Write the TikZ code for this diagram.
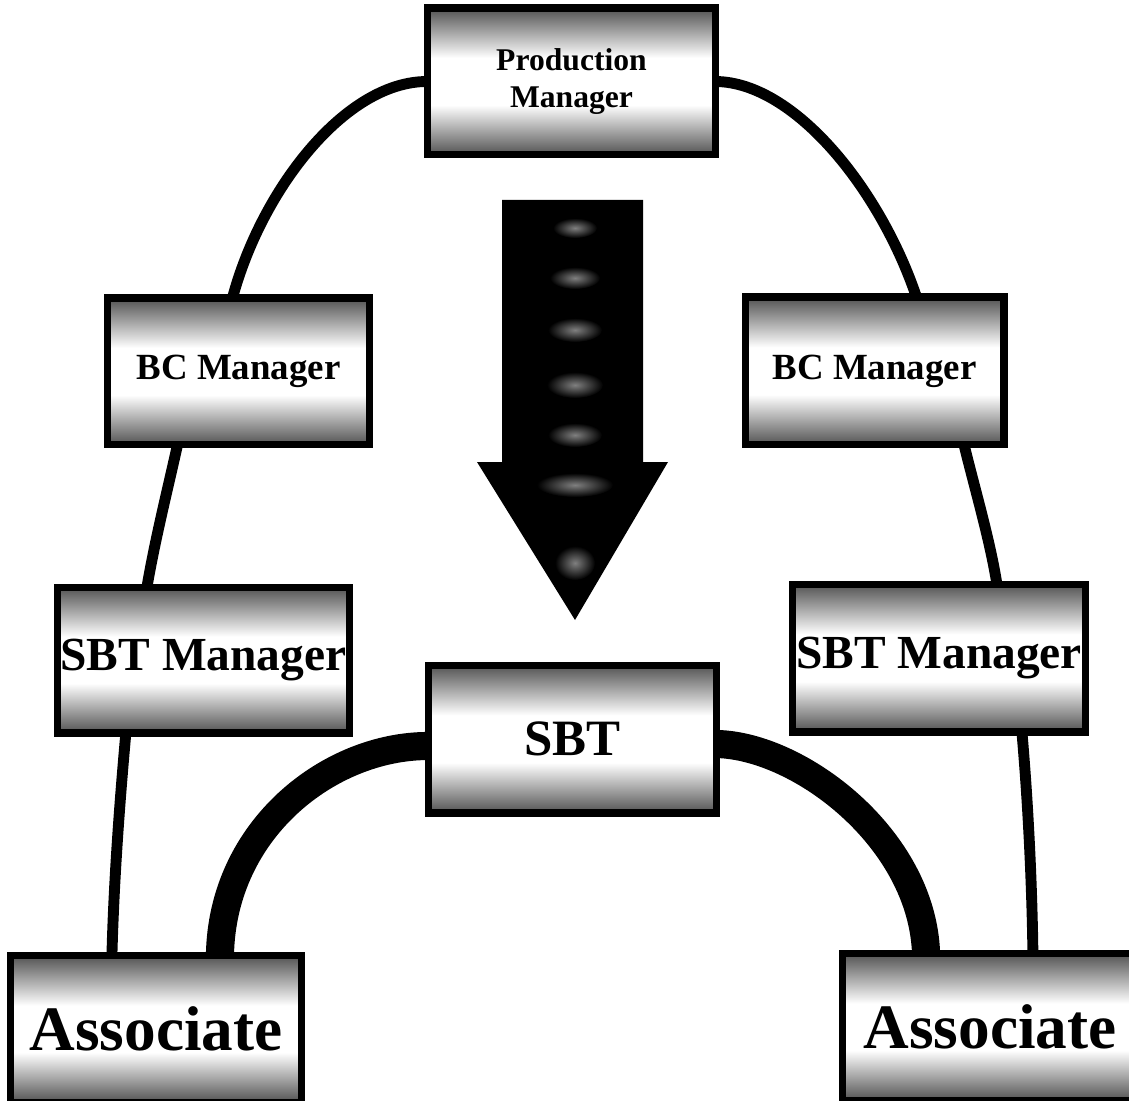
\documentclass[tikz,border=0pt]{standalone}
\usepackage{fontspec}
\setmainfont{Liberation Serif}
\usetikzlibrary{shapes.geometric,calc,backgrounds}

% vertical band shading: gray at top and bottom, white strip in the middle
\pgfdeclareverticalshading{band}{100bp}{%
  color(0bp)=(black!68); color(25bp)=(black!68); color(42bp)=(white);
  color(58bp)=(white); color(75bp)=(black!68); color(100bp)=(black!68)}

\tikzset{
  box/.style={draw=black, line width=4pt, shading=band, inner sep=0pt,
    outer sep=0pt, align=center},
  link/.style={line width=6.2pt, black},
  heavylink/.style={line width=16pt, black},
  blob/.style={ellipse, inner sep=0pt, shading=radial, inner color=black!50,
    outer color=black}
}

\begin{document}
\begin{tikzpicture}[x=0.02cm, y=-0.02cm]
  \useasboundingbox (0,0) rectangle (1129,1101);
  \clip (0,0) rectangle (1129,1101);

  % central arrow
  \fill[black] (502,200) -- (643,200) -- (643,462) -- (668,462) -- (575,620)
    -- (477,462) -- (502,462) -- cycle;
  \foreach \yy/\ww/\hh [count=\i] in {228/44/20, 278/50/22, 330/54/24, 385/56/26,
      435/54/24, 485/76/24, 563/40/34}
    \node[blob, minimum width=\ww*0.02cm, minimum height=\hh*0.02cm] (spot\i) at (575,\yy) {};

  % boxes
  \node[box, minimum width=5.78cm, minimum height=2.94cm,
        font=\bfseries\fontsize{18}{21}\selectfont]
        (pm) at (571.5,81.5) {Production\\Manager};
  \node[box, minimum width=5.26cm, minimum height=2.94cm,
        font=\bfseries\fontsize{21}{24}\selectfont]
        (bcl) at (238.5,371.5) {BC Manager};
  \node[box, minimum width=5.18cm, minimum height=2.96cm,
        font=\bfseries\fontsize{21}{24}\selectfont]
        (bcr) at (874.5,371) {BC Manager};
  \node[box, minimum width=5.86cm, minimum height=2.92cm,
        font=\bfseries\fontsize{27}{30}\selectfont]
        (sbtl) at (203.5,660) {SBT Manager};
  \node[box, minimum width=5.88cm, minimum height=2.96cm,
        font=\bfseries\fontsize{27}{30}\selectfont]
        (sbtr) at (939,658) {SBT Manager};
  \node[box, minimum width=5.78cm, minimum height=2.96cm,
        font=\bfseries\fontsize{29}{32}\selectfont]
        (sbt) at (572.5,739) {SBT};
  \node[box, minimum width=5.84cm, minimum height=2.94cm,
        font=\bfseries\fontsize{36}{38}\selectfont]
        (asl) at (156,1029) {Associate};
  \node[box, minimum width=5.92cm, minimum height=2.94cm,
        font=\bfseries\fontsize{36}{38}\selectfont]
        (asr) at (990,1027) {Associate};

  % attachment points on the box edges
  \coordinate (bclT) at ($(bcl.north west)!0.477!(bcl.north east)$);
  \coordinate (bclB) at ($(bcl.south west)!0.268!(bcl.south east)$);
  \coordinate (sbtlT) at ($(sbtl.north west)!0.307!(sbtl.north east)$);
  \coordinate (sbtlB) at ($(sbtl.south west)!0.235!(sbtl.south east)$);
  \coordinate (aslT) at ($(asl.north west)!0.349!(asl.north east)$);
  \coordinate (aslH) at ($(asl.north west)!0.719!(asl.north east)$);
  \coordinate (bcrT) at ($(bcr.north west)!0.662!(bcr.north east)$);
  \coordinate (bcrB) at ($(bcr.south west)!0.846!(bcr.south east)$);
  \coordinate (sbtrT) at ($(sbtr.north west)!0.697!(sbtr.north east)$);
  \coordinate (sbtrB) at ($(sbtr.south west)!0.782!(sbtr.south east)$);
  \coordinate (asrT) at ($(asr.north west)!0.645!(asr.north east)$);
  \coordinate (asrH) at ($(asr.north west)!0.284!(asr.north east)$);
  \coordinate (sbtW) at ($(sbt.west)+(0,7)$);
  \coordinate (sbtE) at ($(sbt.east)+(0,5)$);

  \begin{scope}[on background layer]
    % thin arch through the management chain
    \draw[link] (pm.west) .. controls +(-82,0) and +(29,-108) .. (bclT);
    \draw[link] (bclB) .. controls +(-10,45) and +(8,-47) .. (sbtlT);
    \draw[link] (sbtlB) .. controls +(-6,67) and +(2,-77) .. (aslT);
    \draw[link] (pm.east) .. controls +(79,1) and +(-36,-107) .. (bcrT);
    \draw[link] (bcrB) .. controls +(11,45) and +(-7,-44) .. (sbtrT);
    \draw[link] (sbtrB) .. controls +(6,68) and +(-1,-73) .. (asrT);

    % heavy links from the SBT to the associates
    \draw[heavylink] (sbtW) .. controls +(-98,0) and +(2,-127) .. (aslH);
    \draw[heavylink] (sbtE) .. controls +(83,2) and +(-4,-115) .. (asrH);
  \end{scope}
\end{tikzpicture}
\end{document}
